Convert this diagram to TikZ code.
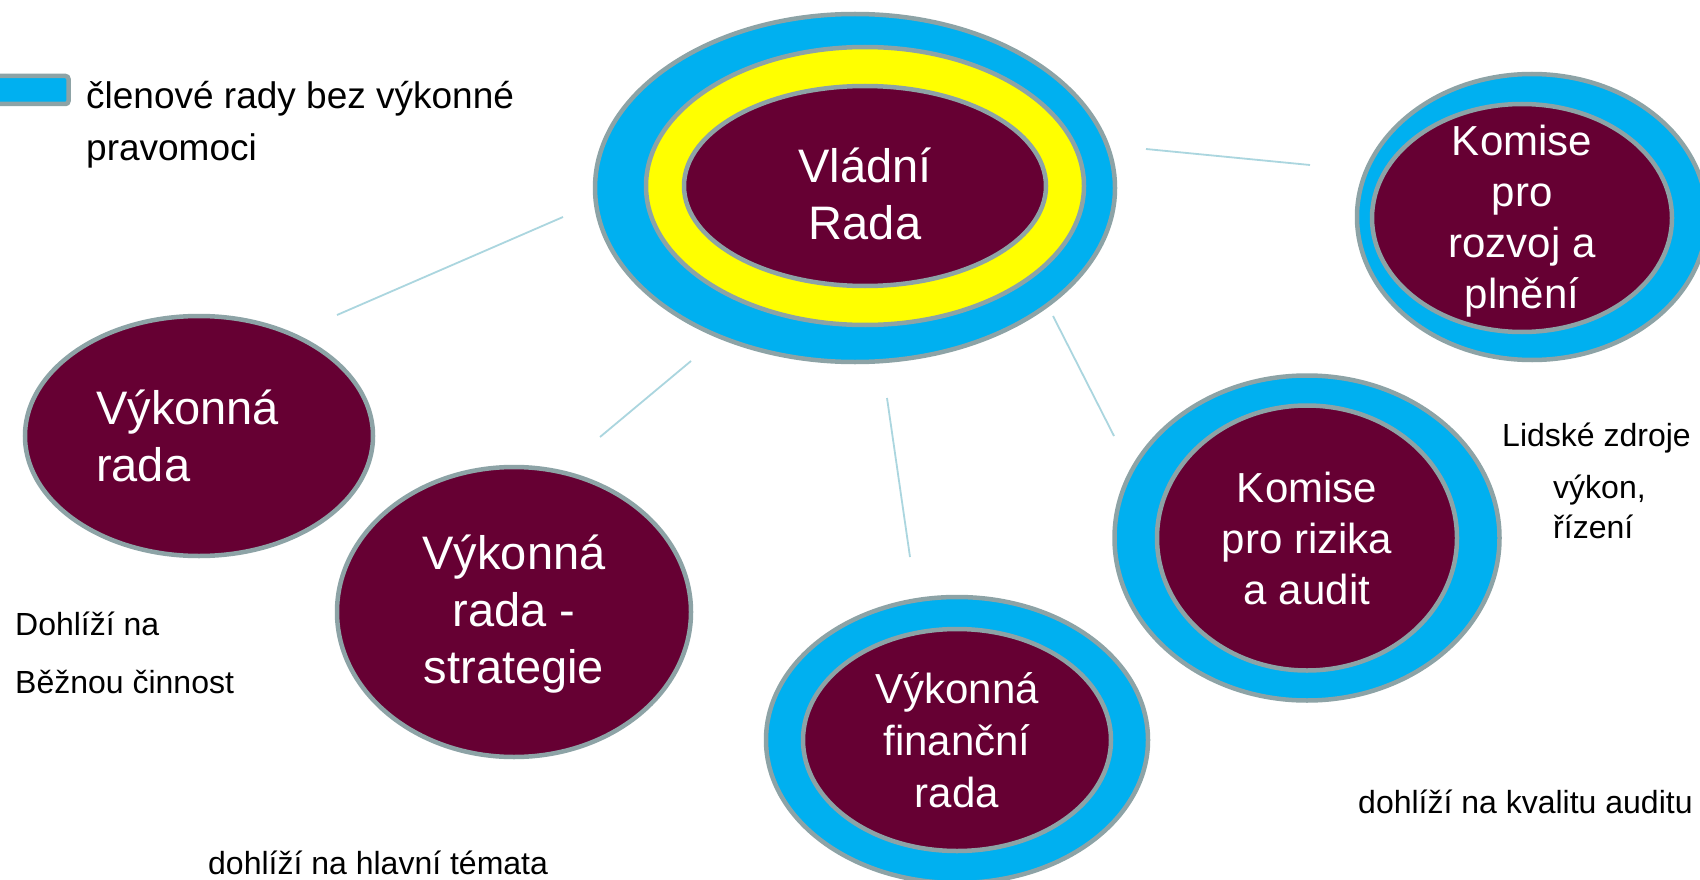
\documentclass[tikz,border=0pt]{standalone}
\usepackage{fontspec}
\setmainfont{Liberation Sans}
\usepackage{xcolor}
\usetikzlibrary{shapes.geometric, positioning}
\definecolor{ringblue}{HTML}{00B0F0}
\definecolor{haloyellow}{HTML}{FFFF00}
\definecolor{coremaroon}{HTML}{660033}
\definecolor{edgegray}{HTML}{8DA3A6}
\definecolor{linkblue}{HTML}{ABD6DF}
\tikzstyle{ring} = [ellipse, draw=edgegray, line width=4.5pt, fill=ringblue, inner sep=0pt]
\tikzstyle{halo} = [ellipse, draw=edgegray, line width=4.5pt, fill=haloyellow, inner sep=0pt]
\tikzstyle{core} = [ellipse, draw=edgegray, line width=4.5pt, fill=coremaroon, inner sep=0pt]
\tikzstyle{title} = [text=white, align=center, inner sep=0pt, font=\fontsize{42}{51}\selectfont]
\tikzstyle{bigtitle} = [title, font=\fontsize{47}{57}\selectfont]
\tikzstyle{note} = [inner sep=0pt, align=left, font=\fontsize{32}{40}\selectfont]
\tikzstyle{link} = [draw=linkblue, line width=1.8pt]

\begin{document}
\begin{tikzpicture}[x=1pt, y=-1pt]
    \useasboundingbox (0,0) rectangle (1700,880);
    \fill[white] (0,0) rectangle (1700,880);

    \node (legend) [draw=edgegray, line width=4.5pt, fill=ringblue, rounded corners=3pt, minimum width=77pt, minimum height=28pt, inner sep=0pt] at (30,90) {};
    \node (legendtxt) [note, anchor=west, font=\fontsize{37}{52}\selectfont] at (86,125) {členové rady bez výkonné\\pravomoci};

    \node (vlada-out) [ring, minimum width=520pt, minimum height=348pt] at (855,188) {};
    \node (vlada-mid) [halo, minimum width=438pt, minimum height=278pt] at (865,186) {};
    \node (vlada) [core, minimum width=362pt, minimum height=200pt] at (865,186) {};
    \node (vlada-txt) [bigtitle] at ([yshift=-8pt]vlada.center) {Vládní\\Rada};

    \node (rozvoj-out) [ring, minimum width=350pt, minimum height=286pt] at (1532,217) {};
    \node (rozvoj) [core, minimum width=300pt, minimum height=228pt] at (1522,218) {};
    \node (rozvoj-txt) [title] at ([yshift=-3pt]rozvoj.center) {Komise\\pro\\rozvoj a\\plnění};

    \node (rizika-out) [ring, minimum width=385pt, minimum height=325pt] at (1307,538) {};
    \node (rizika) [core, minimum width=300pt, minimum height=265pt] at (1307,538) {};
    \node (rizika-txt) [title] at (rizika.center) {Komise\\pro rizika\\a audit};

    \node (financni-out) [ring, minimum width=382pt, minimum height=286pt] at (957,740) {};
    \node (financni) [core, minimum width=308pt, minimum height=222pt] at (957,740) {};
    \node (financni-txt) [title, font=\fontsize{42}{52}\selectfont] at (financni.center) {Výkonná\\finanční\\rada};

    \node (vykrada) [core, minimum width=348pt, minimum height=240pt] at (199,436) {};
    \node (vykrada-txt) [bigtitle, align=left, anchor=west] at ([xshift=-103pt]vykrada.center) {Výkonná\\rada};

    \node (strategie) [core, minimum width=354pt, minimum height=290pt] at (514,612) {};
    \node (strategie-txt) [bigtitle] at ([yshift=-2pt]strategie.center) {Výkonná\\rada -\\strategie};

    \node (bezna) [note, anchor=west, font=\fontsize{32}{58}\selectfont] at (15,653) {Dohlíží na\\Běžnou činnost};
    \node (hlavni) [note, anchor=base west] at (208,874) {dohlíží na hlavní témata};
    \node (lidske) [note, anchor=base west] at (1502,446) {Lidské zdroje};
    \node (vykon) [note, anchor=west] at (1553,507) {výkon,\\řízení};
    \node (kvalita) [note, anchor=base west] at (1358,813) {dohlíží na kvalitu auditu};

    \coordinate (c1a) at (337,315);
    \coordinate (c1b) at (563,217);
    \coordinate (c2a) at (600,437);
    \coordinate (c2b) at (691,361);
    \coordinate (c3a) at (887,398);
    \coordinate (c3b) at (910,557);
    \coordinate (c4a) at (1053,316);
    \coordinate (c4b) at (1114,436);
    \coordinate (c5a) at (1146,149);
    \coordinate (c5b) at (1310,165);

    \draw [link] (c1a) -- (c1b);
    \draw [link] (c2a) -- (c2b);
    \draw [link] (c3a) -- (c3b);
    \draw [link] (c4a) -- (c4b);
    \draw [link] (c5a) -- (c5b);

\end{tikzpicture}
\end{document}
